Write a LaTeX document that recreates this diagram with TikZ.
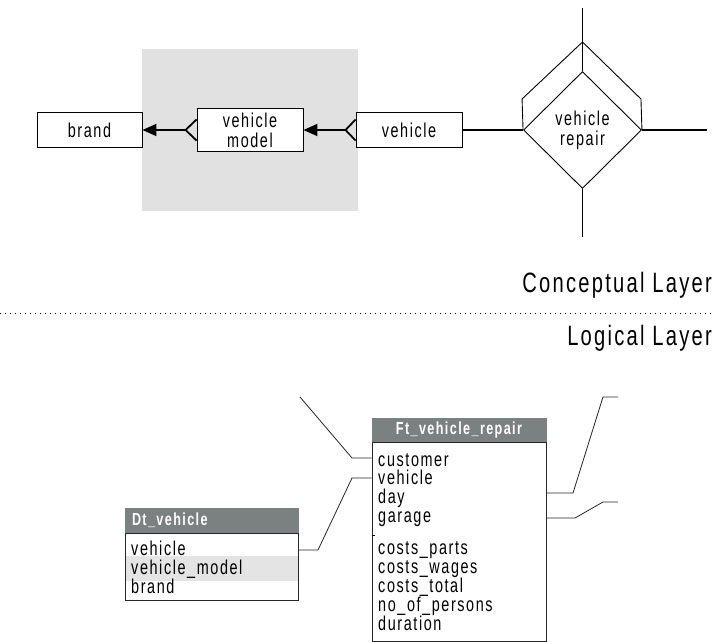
\documentclass[tikz,border=0pt]{standalone}
\usepackage{fontspec}
\setmainfont{Liberation Sans}[FakeStretch=0.72,LetterSpace=8]
\usetikzlibrary{shapes.geometric,arrows.meta,calc}
\definecolor{bgshade}{HTML}{E1E1E1}
\definecolor{rowshade}{HTML}{E4E4E4}
\definecolor{hdr}{HTML}{7B8081}
\newcommand{\firststrut}{\rule{0pt}{15pt}}
\begin{document}
\lineskiplimit=-20pt
\begin{tikzpicture}[x=1pt,y=-1pt,
  ent/.style={draw, line width=0.9pt, inner sep=0, font=\fontsize{20}{20}\selectfont, align=center, fill=white},
  link/.style={line width=1.8pt},
  thinln/.style={line width=0.9pt},
  rows/.style={anchor=north west, inner sep=0, align=left, font=\fontsize{20}{#1}\selectfont},
  hdrbox/.style={fill=hdr, draw=hdr, text=white, font=\bfseries\fontsize{17.5}{18}\selectfont, inner sep=0},
  tbox/.style={draw=black!85, line width=0.9pt, inner sep=0},
  conn/.style={line width=0.8pt, draw=black!85},
  layer/.style={anchor=base east, inner sep=0, font=\fontsize{28}{28}\selectfont}
]
\useasboundingbox (0,0) rectangle (715,642);
% shaded area
\fill[bgshade] (142,49) rectangle (358,211);
% entities
\node[ent, minimum width=105pt, minimum height=35pt] (brand) at (89.5,130) {brand};
\node[ent, minimum width=106pt, minimum height=43pt] (vmodel) at (250,130) {vehicle\\model};
\node[ent, minimum width=106pt, minimum height=35pt] (vehicle) at (409,130) {vehicle};
\node[diamond, draw, thinln, minimum width=118pt, minimum height=117pt, inner sep=0, aspect=1, align=center, font=\fontsize{20}{20}\selectfont] (repair) at (582.5,130) {vehicle\\repair};
% crow's feet and arrows
\draw[link] ($(vmodel.west)+(0,-10.5)$) -- ($(vmodel.west)+(-11,0)$) coordinate (cf1) -- ($(vmodel.west)+(0,10.5)$);
\draw[link, -{Triangle[length=14pt,width=12pt]}] (cf1) -- (brand.east);
\draw[link] ($(vehicle.west)+(0,-10.5)$) -- ($(vehicle.west)+(-10,0)$) coordinate (cf2) -- ($(vehicle.west)+(0,10.5)$);
\draw[link, -{Triangle[length=14pt,width=12pt]}] (cf2) -- (vmodel.east);
% fact
\coordinate (apex) at (582.5,42);
\draw[thinln] (repair.west) -- ++(-1,-31) -- (apex) -- ($(repair.east)+(-1,-31)$) -- (repair.east);
\draw[thinln] (apex) -- (repair.north);
\coordinate (topend) at (582.5,8);
\coordinate (botend) at (582.5,237);
\coordinate (rightend) at (707,130);
\draw[link] (apex) -- (topend);
\draw[link] (repair.south) -- (botend);
\draw[link] (repair.east) -- (rightend);
\draw[link] (vehicle.east) -- (repair.west);
% layers
\draw[line width=1pt, dash pattern=on 1pt off 4pt] (0,313) -- (715,313);
\node[layer] (concl) at (712,292) {Conceptual Layer};
\node[layer] (logl) at (712,345) {Logical Layer};
% Ft table
\node[hdrbox, minimum width=174pt, minimum height=24pt] (fth) at (459,430) {Ft\_vehicle\_repair};
\node[tbox, minimum width=174pt, minimum height=199pt, anchor=north] (ftb) at (fth.south) {};
\node[rows=18.7] (fkeys) at (378,451) {\firststrut customer\\vehicle\\day\\garage};
\node[rows=19] (fmeas) at (378,539) {\firststrut costs\_parts\\costs\_wages\\costs\_total\\no\_of\_persons\\duration};
\draw[thinln] (ftb.west |- 0,535) -- ++(3,0);
% Dt table
\node[hdrbox, minimum width=173pt, minimum height=25pt, text width=159pt, align=left] (dth) at (211.5,520.5) {Dt\_vehicle};
\node[fill=rowshade, minimum width=172pt, minimum height=25pt, inner sep=0] (hl) at (211.5,568.5) {};
\node[tbox, minimum width=173pt, minimum height=67pt, anchor=north] (dtb) at (dth.south) {};
\node[rows=19] (dattr) at (131,540) {\firststrut vehicle\\vehicle\_model\\brand};
% connectors
\coordinate (cA) at (300,397);
\coordinate (cAk) at (352,458);
\draw[conn] (cA) -- (cAk) -- (cAk -| ftb.west);
\coordinate (vk1) at (318,550);
\coordinate (vk2) at (352,478);
\draw[conn] (vk1 -| dtb.east) -- (vk1) -- (vk2) -- (vk2 -| ftb.west);
\coordinate (dk1) at (573,493);
\coordinate (dk2) at (603,397);
\coordinate (dE) at (618,397);
\draw[conn] (dk1 -| ftb.east) -- (dk1) -- (dk2) -- (dE);
\coordinate (gk1) at (575,518);
\coordinate (gk2) at (603,502);
\coordinate (gE) at (618,502);
\draw[conn] (gk1 -| ftb.east) -- (gk1) -- (gk2) -- (gE);
\end{tikzpicture}
\end{document}
